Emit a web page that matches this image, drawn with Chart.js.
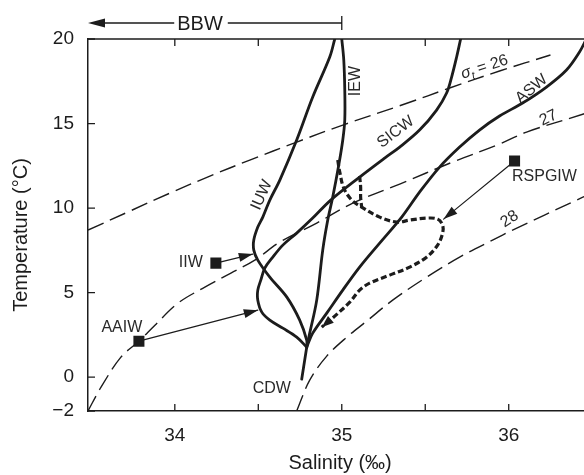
<!DOCTYPE html>
<html><head><meta charset="utf-8">
<script src="https://cdn.jsdelivr.net/npm/chart.js@4/dist/chart.umd.min.js"></script>
<style>html,body{margin:0;padding:0;background:#fff;overflow:hidden;}#wrap{width:600px;height:475px;}</style>
</head><body><div id="wrap"><canvas id="c" width="600" height="475"></canvas></div>
<script>
// ---- data (salinity ‰, temperature °C) ----
const xTicks = [34, 34.5, 35, 35.5, 36];
const yTicks = [-2, 0, 5, 10, 15, 20];

const sigma26 = [[33.480,8.698],[33.731,9.822],[33.971,10.887],[34.210,11.893],[34.449,12.840],[34.730,13.905],[35.006,14.911],[35.377,16.154],[35.646,17.101],[35.945,18.107],[36.250,19.053]];
const sigma27 = [[33.480,-2.0],[33.558,-0.592],[33.677,1.183],[33.785,2.130],[33.881,3.077],[34.019,4.379],[34.180,5.325],[34.336,6.154],[34.479,6.923],[34.629,7.988],[34.850,9.112],[35.066,10.296],[35.347,11.420],[35.664,12.722],[35.945,13.787],[36.107,14.497],[36.448,15.562],[36.501,15.740]];
const sigma28 = [[34.730,-2.0],[34.808,-0.178],[34.910,1.243],[35.030,2.367],[35.149,3.314],[35.305,4.556],[35.508,5.917],[35.706,7.100],[35.903,8.107],[36.023,8.698],[36.406,10.473],[36.501,10.887]];

const cdw  = [[34.760,-0.118],[34.790,1.775]];
const iew  = [[34.790,1.775],[34.808,2.604],[34.850,4.556],[34.886,7.515],[34.916,9.290],[34.946,10.651],[34.982,12.544],[35.006,14.024],[35.018,15.207],[35.018,16.982],[35.012,18.757],[35.000,20]];
const iuw  = [[34.958,20],[34.928,18.935],[34.826,16.568],[34.730,14.024],[34.629,11.657],[34.569,10.473],[34.527,9.467],[34.497,8.876],[34.473,8.107],[34.473,7.515],[34.497,6.923],[34.569,5.917],[34.671,4.734],[34.748,3.373],[34.790,2.189],[34.790,1.775]];
const sicw = [[34.790,1.775],[34.730,2.367],[34.647,2.899],[34.569,3.373],[34.521,3.846],[34.497,4.556],[34.497,5.148],[34.515,5.739],[34.539,6.450],[34.587,7.100],[34.647,7.810],[34.730,8.520],[34.826,9.408],[34.934,10.473],[35.107,11.834],[35.257,12.958],[35.347,13.609],[35.466,14.615],[35.568,15.798],[35.628,16.804],[35.658,17.751],[35.688,18.935],[35.712,20]];
const asw  = [[34.790,1.775],[34.826,2.604],[34.910,3.787],[35.006,5.148],[35.107,6.509],[35.227,7.929],[35.359,9.467],[35.466,10.947],[35.586,12.426],[35.706,13.609],[35.825,14.615],[35.945,15.444],[36.083,16.213],[36.226,17.160],[36.346,18.166],[36.424,19.231],[36.465,20]];

const rspgiwPath   = [[34.976,12.840],[34.988,12.130],[35.012,11.183],[35.060,10.473],[35.119,10.059],[35.227,9.467],[35.329,9.172],[35.407,9.290],[35.508,9.408],[35.574,9.349],[35.604,8.994],[35.604,8.520],[35.574,7.810],[35.508,7.100],[35.407,6.509],[35.287,6.036],[35.167,5.562],[35.107,5.148],[35.048,4.438],[34.958,3.610],[34.880,2.959]];
const rspgiwBranch = [[35.107,11.893],[35.113,11.243],[35.113,10.651],[35.119,10.059]];

const sourceNames  = ['IIW', 'AAIW', 'RSPGIW'];
const sourcePoints = [[34.246,6.746],[33.785,2.130],[36.035,12.781]];
const sourceTargets = [[34.467,7.278],[34.497,3.964],[35.610,9.349]];

const bbwRange = [35.0, 33.48];

// ---- annotation placement ----
const labelDefs = [
  {t:'IEW',  s:35.083, v:17.515, a:-90, al:'center'},
  {t:'IUW',  s:34.521, v:10.769, a:-66, al:'center'},
  {t:'SICW', s:35.323, v:14.497, a:-37, al:'center'},
  {t:'ASW',  s:36.137, v:17.041, a:-40, al:'center'},
  {t:'27',   s:36.238, v:15.325, a:-25, al:'center'},
  {t:'28',   s:36.005, v:9.349,  a:-33, al:'center'},
  {t:'IIW',  s:34.168, v:6.805,  a:0,   al:'right'},
  {t:'AAIW', s:33.683, v:2.959,  a:0,   al:'center'},
  {t:'RSPGIW', s:36.214, v:11.834, a:0, al:'center'},
  {t:'CDW',  s:34.581, v:-0.651, a:0,   al:'center'}
];
const sigmaLabel = {s:35.855, v:18.343, a:-18, value:'26'};
const yTitle = 'Temperature (°C)';

const ink = '#1c1c1c';
const FONT = "'Liberation Sans', Arial, Helvetica, sans-serif";
Chart.defaults.font.family = FONT;
Chart.defaults.color = ink;

const xy = arr => arr.map(p => ({x:p[0], y:p[1]}));

function lineDS(arr, opt) {
  return Object.assign({data: xy(arr), showLine: true, pointRadius: 0, borderColor: ink,
    backgroundColor: ink, borderWidth: 2.8, tension: 0.35, fill: false, borderCapStyle: 'round', borderJoinStyle: 'round'}, opt);
}

const datasets = [
  {data: xy(sourcePoints), showLine: false, pointStyle: 'rect', pointRadius: 7.8, pointBackgroundColor: ink, pointBorderColor: ink, borderWidth: 0},
  ...sourcePoints.map((p, i) => lineDS([p, sourceTargets[i]], {borderWidth: 1.2, tension: 0})),
  lineDS(rspgiwPath, {borderWidth: 3.2, borderDash: [6, 3], borderCapStyle: 'butt'}),
  lineDS(rspgiwBranch, {borderWidth: 3.2, borderDash: [6, 3], borderCapStyle: 'butt'}),
  lineDS(cdw, {tension: 0}),
  lineDS(iew), lineDS(iuw), lineDS(sicw), lineDS(asw),
  lineDS(sigma26, {borderWidth: 1.4, borderDash: [17, 7], borderCapStyle: 'butt'}),
  lineDS(sigma27, {borderWidth: 1.4, borderDash: [17, 7], borderCapStyle: 'butt'}),
  lineDS(sigma28, {borderWidth: 1.4, borderDash: [17, 7], borderCapStyle: 'butt'})
];

function head(ctx, x0, y0, x1, y1, len, half) {
  const a = Math.atan2(y1 - y0, x1 - x0);
  ctx.save(); ctx.translate(x1, y1); ctx.rotate(a);
  ctx.beginPath(); ctx.moveTo(0, 0); ctx.lineTo(-len, -half); ctx.lineTo(-len, half); ctx.closePath();
  ctx.fill(); ctx.restore();
}

const decor = {
  id: 'decor',
  afterDatasetsDraw(chart) {
    const ctx = chart.ctx, X = chart.scales.x, Y = chart.scales.y, ca = chart.chartArea;
    const px = s => X.getPixelForValue(s), py = t => Y.getPixelForValue(t);
    ctx.save();
    ctx.fillStyle = ink; ctx.strokeStyle = ink;
    // frame: top + right
    ctx.lineWidth = 1.5;
    ctx.beginPath(); ctx.moveTo(ca.left, ca.top); ctx.lineTo(ca.right, ca.top); ctx.lineTo(ca.right, ca.bottom); ctx.stroke();
    // inward ticks
    ctx.lineWidth = 1.3;
    xTicks.forEach(v => { const x = px(v);
      ctx.beginPath(); ctx.moveTo(x, ca.bottom); ctx.lineTo(x, ca.bottom - 7); ctx.moveTo(x, ca.top); ctx.lineTo(x, ca.top + 7); ctx.stroke(); });
    yTicks.forEach(v => { const y = py(v);
      ctx.beginPath(); ctx.moveTo(ca.left, y); ctx.lineTo(ca.left + 7, y); ctx.moveTo(ca.right, y); ctx.lineTo(ca.right - 7, y); ctx.stroke(); });
    // arrowheads for sources
    sourcePoints.forEach((p, i) => { const q = sourceTargets[i];
      head(ctx, px(p[0]), py(p[1]), px(q[0]), py(q[1]), 14, 4.5); });
    // arrowhead on dashed path
    const n = rspgiwPath.length, a0 = rspgiwPath[n - 2], a1 = rspgiwPath[n - 1];
    head(ctx, px(a0[0]), py(a0[1]), px(a1[0]), py(a1[1]), 12, 4.5);
    // BBW arrow
    const yb = ca.top - 16, xr = px(bbwRange[0]), xl = px(bbwRange[1]);
    ctx.font = '20px ' + FONT; ctx.textAlign = 'center'; ctx.textBaseline = 'middle';
    const xc = 200;
    const tw = ctx.measureText('BBW').width;
    ctx.fillText('BBW', xc, yb + 1);
    ctx.lineWidth = 1.3;
    ctx.beginPath(); ctx.moveTo(xl + 10, yb); ctx.lineTo(xc - tw / 2 - 3, yb);
    ctx.moveTo(xc + tw / 2 + 5, yb); ctx.lineTo(xr, yb);
    ctx.moveTo(xr, yb - 7); ctx.lineTo(xr, yb + 7); ctx.stroke();
    head(ctx, xl + 20, yb, xl, yb, 17, 4.5);
    // y-axis title
    ctx.save(); ctx.translate(21, (ca.top + ca.bottom) / 2 + 10); ctx.rotate(-Math.PI / 2);
    ctx.font = '20px ' + FONT; ctx.textAlign = 'center'; ctx.textBaseline = 'middle';
    ctx.fillText(yTitle, 0, 0); ctx.restore();
    // labels
    ctx.font = '16px ' + FONT; ctx.fillStyle = '#2a2a2a';
    labelDefs.forEach(L => {
      ctx.save(); ctx.translate(px(L.s), py(L.v)); ctx.rotate(L.a * Math.PI / 180);
      ctx.textAlign = L.al; ctx.textBaseline = 'middle'; ctx.fillText(L.t, 0, 0); ctx.restore();
    });
    // sigma_t = 26
    ctx.save(); ctx.translate(px(sigmaLabel.s), py(sigmaLabel.v)); ctx.rotate(sigmaLabel.a * Math.PI / 180);
    ctx.textBaseline = 'middle'; ctx.textAlign = 'left';
    const f1 = 'italic 16px ' + FONT, f2 = 'italic 11px ' + FONT, f3 = '16px ' + FONT;
    ctx.font = f1; const w1 = ctx.measureText('σ').width;
    ctx.font = f2; const w2 = ctx.measureText('t').width;
    ctx.font = f3; const rest = ' = ' + sigmaLabel.value; const w3 = ctx.measureText(rest).width;
    let x0 = -(w1 + w2 + w3) / 2;
    ctx.font = f1; ctx.fillText('σ', x0, 0); x0 += w1;
    ctx.font = f2; ctx.fillText('t', x0, 5); x0 += w2;
    ctx.font = f3; ctx.fillText(rest, x0, 0);
    ctx.restore();
    ctx.restore();
  }
};

new Chart(document.getElementById('c'), {
  type: 'scatter',
  data: {datasets},
  options: {
    responsive: false, animation: false, devicePixelRatio: 1,
    layout: {padding: {top: 39, right: 7, left: 0, bottom: 0}},
    plugins: {legend: {display: false}, tooltip: {enabled: false}},
    scales: {
      x: {type: 'linear', position: 'bottom', min: 33.48, max: 36.5,
        afterBuildTicks: s => { s.ticks = xTicks.map(v => ({value: v})); },
        afterFit: s => { s.height = 64; },
        grid: {display: true, drawOnChartArea: false, drawTicks: false},
        border: {display: true, color: ink, width: 1.5},
        ticks: {padding: 13, font: {size: 19}, color: ink, maxRotation: 0,
          callback: v => Number.isInteger(v) ? String(v) : ''},
        title: {display: true, text: 'Salinity (‰)', font: {size: 20}, color: ink, padding: {top: 0, bottom: 0}}
      },
      y: {type: 'linear', position: 'left', min: -2, max: 20,
        afterBuildTicks: s => { s.ticks = yTicks.map(v => ({value: v})); },
        afterFit: s => { s.width = 88; },
        grid: {display: true, drawOnChartArea: false, drawTicks: false},
        border: {display: true, color: ink, width: 1.5},
        ticks: {padding: 14, font: {size: 19}, color: ink,
          callback: v => v < 0 ? '\u2212' + Math.abs(v) : String(v)},
        title: {display: false}
      }
    }
  },
  plugins: [decor]
});
</script>
</body></html>
